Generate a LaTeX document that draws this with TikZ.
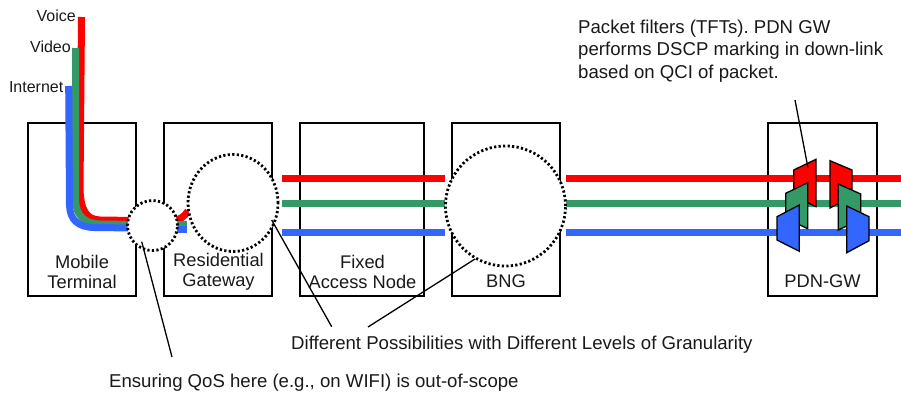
\documentclass[tikz,border=0pt]{standalone}
\usepackage{fontspec}
\usetikzlibrary{shapes.geometric}
\setmainfont{Liberation Sans}
\definecolor{vred}{RGB}{255,0,0}
\definecolor{vgreen}{RGB}{51,153,102}
\definecolor{vblue}{RGB}{51,102,255}
\tikzset{
  dev/.style={draw=black,line width=1.4pt,inner sep=0pt,minimum width=#1,minimum height=173pt},
  txt/.style={inner sep=0pt,font=\fontsize{18.3}{20}\selectfont,align=center,text=black!90},
  wide/.style={inner sep=0pt,font=\fontsize{18.6}{20}\selectfont,text=black!90},
  lab/.style={inner sep=0pt,font=\fontsize{16}{20}\selectfont,text=black!90},
  note/.style={inner sep=0pt,font=\frenchspacing\fontsize{18.6}{22.8}\selectfont,align=left,text=black!90},
  flow/.style={line width=7pt},
  zone/.style={ellipse,draw=black,fill=white,line width=2.8pt,dash pattern=on 2.2pt off 2.3pt,inner sep=0pt},
  leader/.style={draw=black,line width=1.3pt},
  filt/.style={draw=black,line width=1.3pt}
}
\begin{document}
\begin{tikzpicture}[x=1pt,y=-1pt]
\useasboundingbox (0,0) rectangle (901,394);
% devices
\node[dev=108pt] (mt) at (82,209.5) {};
\node[dev=108pt] (rg) at (218,209.5) {};
\node[dev=124pt] (fan) at (362,209.5) {};
\node[dev=108pt] (bng) at (506,209.5) {};
\node[dev=109pt] (pgw) at (822.5,209.5) {};
% flow ends
\coordinate (voiceT) at (81.5,17);
\coordinate (videoT) at (75.7,48);
\coordinate (netT) at (68.7,86);
% flows in the terminal
\draw[flow,vred] (voiceT) -- (80,190) .. controls (81,210) and (86,219.5) .. (100,220) -- (135,220.5);
\draw[flow,vgreen] (videoT) -- (75.5,200) .. controls (76,215) and (84,223.5) .. (100,224) -- (135,224.5);
\draw[flow,vblue] (netT) -- (69.5,205) .. controls (70,220) and (78,227) .. (94,227.5) -- (135,228);
\draw[flow,vred] (175,220) .. controls (180,219.5) and (184,217) .. (188,211);
\draw[flow,vgreen] (175,224.5) -- (187,224.5);
\draw[flow,vblue] (175,229.5) -- (187,229.5);
% flows in the network
\coordinate (r0) at (282,178.5); \coordinate (r1) at (445,178.5); \coordinate (r2) at (566,178.5); \coordinate (r3) at (901,178.5);
\coordinate (g0) at (282,203.5); \coordinate (g1) at (445,203.5); \coordinate (g2) at (566,203.5); \coordinate (g3) at (901,203.5);
\coordinate (b0) at (282,232.5); \coordinate (b1) at (445,232.5); \coordinate (b2) at (566,232.5); \coordinate (b3) at (901,232.5);
\draw[flow,vred] (r0) -- (r1) (r2) -- (r3);
\draw[flow,vgreen] (g0) -- (g1) (g2) -- (g3);
\draw[flow,vblue] (b0) -- (b1) (b2) -- (b3);
% zones
\node[zone,minimum width=50pt,minimum height=50pt] (z1) at (152.5,225.5) {};
\node[zone,minimum width=90pt,minimum height=97pt] (z2) at (233,203) {};
\node[zone,minimum width=120pt,minimum height=120pt] (z3) at (505.5,206) {};
% filters
\draw[filt,fill=vred] (793.7,170) -- (816,159.3) -- (816,206.7) -- (793.7,196) -- cycle;
\draw[filt,fill=vred] (830,160.7) -- (852,170) -- (852,196) -- (830,208) -- cycle;
\draw[filt,fill=vgreen] (785.7,193.3) -- (807.7,182.7) -- (807.7,228.7) -- (785.7,218.3) -- cycle;
\draw[filt,fill=vgreen] (838.3,184) -- (860.7,194) -- (860.7,219.3) -- (838.3,230) -- cycle;
\draw[filt,fill=vblue] (777,216.7) -- (799.3,205) -- (799.3,251.3) -- (777,240) -- cycle;
\draw[filt,fill=vblue] (846.7,206) -- (869,216.7) -- (869,240.7) -- (846.7,252.7) -- cycle;
% labels
\node[lab,anchor=east] (lvoice) at (76,16) {Voice};
\node[lab,anchor=east] (lvideo) at (71,47) {Video};
\node[lab,anchor=east] (lnet) at (63.5,87) {Internet};
\node[txt] (tmt) at (82,271.5) {Mobile\\Terminal};
\node[txt] (trg) at (218.5,271.5) {Residential\\Gateway};
\node[txt] (tfan) at (362.5,271.5) {Fixed\\Access Node};
\node[txt] (tbng) at (506,281.5) {BNG};
\node[txt] (tpgw) at (822.5,281.5) {PDN-GW};
\node[note,anchor=north west] (tft) at (578,19.5) {Packet filters (TFTs). PDN GW\\performs DSCP marking in down-link\\based on QCI of packet.};
\node[wide,anchor=west] (tdiff) at (291,345) {Different Possibilities with Different Levels of Granularity};
\node[wide,anchor=west] (tqos) at (109,383) {Ensuring QoS here (e.g., on WIFI) is out-of-scope};
% leaders
\coordinate (l1) at (172,357); \coordinate (l1e) at (141.7,241.7);
\coordinate (l2) at (331.7,326.7); \coordinate (l2e) at (271.7,220);
\coordinate (l3) at (368,327); \coordinate (l3e) at (475,259);
\coordinate (l4) at (795,100); \coordinate (l4e) at (808,168);
\draw[leader] (l1e) -- (l1);
\draw[leader] (l2e) -- (l2);
\draw[leader] (l3e) -- (l3);
\draw[leader] (l4) -- (l4e);
\end{tikzpicture}
\end{document}
